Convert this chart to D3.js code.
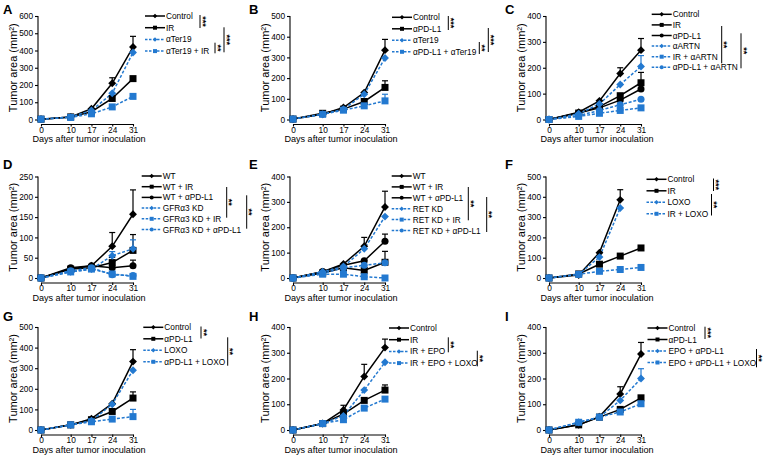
<!DOCTYPE html>
<html><head><meta charset="utf-8">
<script src="https://cdn.jsdelivr.net/npm/d3@7"></script>
<style>body{margin:0;background:#fff}svg{display:block}text{font-family:"Liberation Sans",Arial,sans-serif}</style>
</head><body><svg id="c" width="765" height="456"></svg>
<script>
const days = [0, 10, 17, 24, 31];
const xTitle = "Days after tumor inoculation";
const yTitle = "Tumor area (mm²)";

// Panel A
const aLabels = ["Control", "IR", "αTer19", "αTer19 + IR"];
const aControl = [2, 15, 62, 210, 420];   const aControlSem = [0, 4, 8, 32, 62];
const aIR = [2, 15, 45, 122, 237];        const aIRSem = [0, 4, 6, 8, 10];
const aTer = [2, 14, 52, 152, 388];       const aTerSem = [0, 3, 5, 12, 15];
const aTerIR = [2, 12, 33, 73, 134];      const aTerIRSem = [0, 3, 5, 10, 22];

// Panel B
const bLabels = ["Control", "αPD-L1", "αTer19", "αPD-L1 + αTer19"];
const bControl = [2, 25, 58, 130, 335];   const bControlSem = [0, 5, 12, 10, 52];
const bPD = [2, 30, 50, 87, 155];         const bPDSem = [0, 4, 6, 8, 32];
const bTer = [2, 25, 50, 122, 297];       const bTerSem = [0, 4, 5, 10, 10];
const bPDTer = [2, 25, 45, 66, 90];       const bPDTerSem = [0, 3, 5, 8, 32];

// Panel C
const cLabels = ["Control", "IR", "αPD-L1", "αARTN", "IR + αARTN", "αPD-L1 + αARTN"];
const cControl = [0, 28, 72, 178, 268];   const cControlSem = [0, 3, 12, 22, 45];
const cIR = [0, 25, 50, 92, 142];         const cIRSem = [0, 3, 8, 15, 40];
const cPD = [0, 25, 45, 75, 118];         const cPDSem = [0, 3, 6, 10, 30];
const cARTN = [0, 22, 60, 135, 205];      const cARTNSem = [0, 3, 8, 10, 42];
const cIRARTN = [0, 12, 24, 35, 45];      const cIRARTNSem = [0, 2, 3, 5, 8];
const cPDARTN = [0, 15, 35, 57, 78];      const cPDARTNSem = [0, 2, 5, 6, 6];

// Panel D
const dLabels = ["WT", "WT + IR", "WT + αPD-L1", "GFRα3 KD", "GFRα3 KD + IR", "GFRα3 KD + αPD-L1"];
const dWT = [0, 22, 30, 78, 157];         const dWTSem = [0, 3, 4, 34, 60];
const dWTIR = [0, 22, 25, 38, 68];        const dWTIRSem = [0, 3, 3, 13, 39];
const dWTPD = [0, 25, 30, 25, 30];        const dWTPDSem = [0, 3, 3, 5, 14];
const dKD = [0, 15, 22, 55, 72];          const dKDSem = [0, 2, 3, 10, 22];
const dKDIR = [0, 15, 22, 10, 4];         const dKDIRSem = [0, 2, 3, 4, 4];
const dKDPD = [0, 18, 25, 8, 6];          const dKDPDSem = [0, 2, 3, 4, 8];

// Panel E
const eLabels = ["WT", "WT + IR", "WT + αPD-L1", "RET KD", "RET KD + IR", "RET KD + αPD-L1"];
const eWT = [0, 25, 55, 125, 280];        const eWTSem = [0, 3, 10, 35, 62];
const eWTIR = [0, 20, 40, 30, 62];        const eWTIRSem = [0, 3, 5, 8, 43];
const eWTPD = [0, 25, 50, 68, 145];       const eWTPDSem = [0, 3, 6, 12, 28];
const eKD = [0, 25, 45, 115, 242];        const eKDSem = [0, 3, 5, 10, 10];
const eKDIR = [0, 15, 15, 5, 0];          const eKDIRSem = [0, 2, 2, 2, 2];
const eKDPD = [0, 18, 40, 50, 60];        const eKDPDSem = [0, 2, 4, 5, 8];

// Panel F
const fLabels = ["Control", "IR", "LOXO", "IR + LOXO"];
const fControl = [0, 15, 125, 385, null]; const fControlSem = [0, 3, 12, 50, 0];
const fIR = [0, 20, 68, 108, 148];        const fIRSem = [0, 3, 6, 6, 10];
const fLOXO = [0, 18, 103, 345, null];    const fLOXOSem = [0, 3, 8, 8, 0];
const fIRLOXO = [0, 18, 33, 42, 52];      const fIRLOXOSem = [0, 3, 4, 4, 8];

// Panel G
const gLabels = ["Control", "αPD-L1", "LOXO", "αPD-L1 + LOXO"];
const gControl = [0, 25, 55, 128, 332];   const gControlSem = [0, 3, 5, 8, 58];
const gPD = [0, 25, 50, 90, 155];         const gPDSem = [0, 3, 5, 8, 30];
const gLOXO = [0, 25, 45, 125, 290];      const gLOXOSem = [0, 3, 5, 8, 10];
const gPDLOXO = [0, 25, 40, 53, 65];      const gPDLOXOSem = [0, 3, 4, 6, 35];

// Panel H
const hLabels = ["Control", "IR", "IR + EPO", "IR + EPO + LOXO"];
const hControl = [0, 25, 78, 208, 320];   const hControlSem = [0, 3, 18, 47, 33];
const hIR = [0, 25, 62, 115, 155];        const hIRSem = [0, 3, 6, 10, 20];
const hEPO = [0, 25, 55, 155, 263];       const hEPOSem = [0, 3, 5, 8, 8];
const hEPOLOXO = [0, 25, 40, 85, 120];    const hEPOLOXOSem = [0, 3, 4, 6, 8];

// Panel I
const iLabels = ["Control", "αPD-L1", "EPO + αPD-L1", "EPO + αPD-L1 + LOXO"];
const iControl = [0, 20, 52, 140, 295];   const iControlSem = [0, 3, 5, 28, 45];
const iPD = [0, 20, 50, 80, 125];         const iPDSem = [0, 3, 5, 8, 15];
const iEPOPD = [0, 30, 50, 115, 200];     const iEPOPDSem = [0, 3, 5, 8, 38];
const iEPOPDLOXO = [0, 30, 50, 70, 102];  const iEPOPDLOXOSem = [0, 3, 5, 6, 8];

// ---------- layout / style ----------
const BLACK = "#000", BLUE = "#2379d0";
const colAxisX = [38, 290, 546];
const rowTop = [16, 176.5, 327];
const rowBot = [119.5, 278, 430];
const letterX = [3, 249, 505];
const letterY = [14, 169, 321];
const sym4 = ["diamond", "square", "diamond", "square"];
const col4 = [BLACK, BLACK, BLUE, BLUE];
const sym6 = ["diamond", "square", "circle", "diamond", "square", "circle"];
const col6 = [BLACK, BLACK, BLACK, BLUE, BLUE, BLUE];

const panels = [
  {letter: "A", col: 0, row: 0, ymax: 600, step: 100, labels: aLabels,
   values: [aControl, aIR, aTer, aTerIR], sems: [aControlSem, aIRSem, aTerSem, aTerIRSem],
   legX: 145, legY: 16, legDy: 11.7,
   brackets: [[200, 15, 28, "***"], [215, 42.7, 53.3, "**"], [224, 27.3, 52.3, "***"]]},
  {letter: "B", col: 1, row: 0, ymax: 500, step: 100, labels: bLabels,
   values: [bControl, bPD, bTer, bPDTer], sems: [bControlSem, bPDSem, bTerSem, bPDTerSem],
   legX: 392, legY: 17.3, legDy: 11.5,
   brackets: [[448.3, 16, 30, "***"], [479.3, 42, 54, "**"], [488.3, 28, 52, "***"]]},
  {letter: "C", col: 2, row: 0, ymax: 400, step: 100, labels: cLabels,
   values: [cControl, cIR, cPD, cARTN, cIRARTN, cPDARTN],
   sems: [cControlSem, cIRSem, cPDSem, cARTNSem, cIRARTNSem, cPDARTNSem],
   legX: 651.7, legY: 14.3, legDy: 10.6,
   brackets: [[721.7, 26, 63.3, "**"], [741, 33.3, 68.3, "**"]]},
  {letter: "D", col: 0, row: 1, ymax: 250, step: 50, labels: dLabels,
   values: [dWT, dWTIR, dWTPD, dKD, dKDIR, dKDPD],
   sems: [dWTSem, dWTIRSem, dWTPDSem, dKDSem, dKDIRSem, dKDPDSem],
   legX: 141.7, legY: 176, legDy: 10.7,
   brackets: [[226.7, 187, 217.7, "**"], [246.7, 195.3, 228.7, "**"]]},
  {letter: "E", col: 1, row: 1, ymax: 400, step: 100, labels: eLabels,
   values: [eWT, eWTIR, eWTPD, eKD, eKDIR, eKDPD],
   sems: [eWTSem, eWTIRSem, eWTPDSem, eKDSem, eKDIRSem, eKDPDSem],
   legX: 391.7, legY: 176, legDy: 10.9,
   brackets: [[468.3, 187, 220.3, "**"], [486.7, 197, 232, "**"]]},
  {letter: "F", col: 2, row: 1, ymax: 500, step: 100, labels: fLabels,
   values: [fControl, fIR, fLOXO, fIRLOXO], sems: [fControlSem, fIRSem, fLOXOSem, fIRLOXOSem],
   legX: 646.5, legY: 179.3, legDy: 11.5,
   brackets: [[713.5, 178.5, 191, "***"], [711.5, 194, 215.5, "**"]]},
  {letter: "G", col: 0, row: 2, ymax: 500, step: 100, labels: gLabels,
   values: [gControl, gPD, gLOXO, gPDLOXO], sems: [gControlSem, gPDSem, gLOXOSem, gPDLOXOSem],
   legX: 143.3, legY: 327.3, legDy: 11.5,
   brackets: [[201, 326.5, 338.5, "**"], [227.7, 337.3, 365.7, "**"]]},
  {letter: "H", col: 1, row: 2, ymax: 400, step: 100, labels: hLabels,
   values: [hControl, hIR, hEPO, hEPOLOXO], sems: [hControlSem, hIRSem, hEPOSem, hEPOLOXOSem],
   legX: 389, legY: 328, legDy: 11.7,
   brackets: [[448.3, 337.3, 352.3, "**"], [477.3, 350.7, 366.3, "**"]]},
  {letter: "I", col: 2, row: 2, ymax: 400, step: 100, labels: iLabels,
   values: [iControl, iPD, iEPOPD, iEPOPDLOXO], sems: [iControlSem, iPDSem, iEPOPDSem, iEPOPDLOXOSem],
   legX: 647.5, legY: 328, legDy: 11.5,
   brackets: [[705, 326.7, 339, "***"], [756.5, 349, 367.3, "**"]]}
];

const svg = d3.select("#c");
const FONT = '"Liberation Sans", Arial, sans-serif';

function symPath(kind, s) {
  if (kind === "circle") return d3.symbol(d3.symbolCircle, s * s * 0.8)();
  return d3.symbol(d3.symbolSquare, s * s)();
}
function drawMarker(g, kind, x, y, s, color) {
  g.append("path").attr("d", symPath(kind, kind === "diamond" ? s * 0.8 : s))
    .attr("transform", `translate(${x},${y})` + (kind === "diamond" ? " rotate(45)" : ""))
    .attr("fill", color);
}

panels.forEach(p => {
  const ax = colAxisX[p.col], top = rowTop[p.row], bot = rowBot[p.row];
  const x = d3.scaleLinear().domain([0, 31]).range([ax + 3, ax + 95]);
  const y = d3.scaleLinear().domain([0, p.ymax]).range([bot, top]);
  const g = svg.append("g");
  const n = p.values.length;
  const syms = n === 4 ? sym4 : sym6, cols = n === 4 ? col4 : col6;

  // letter
  g.append("text").attr("x", letterX[p.col]).attr("y", letterY[p.row])
    .attr("font-size", 13).attr("font-weight", "bold").text(p.letter);

  // y axis
  const ya = g.append("g").attr("transform", `translate(${ax},0)`)
    .call(d3.axisLeft(y).tickValues(d3.range(0, p.ymax + 1, p.step)).tickSize(3).tickSizeOuter(0).tickPadding(2));
  ya.select(".domain").attr("d", `M0,${top}V${bot + 2}`);
  // x axis
  const xa = g.append("g").attr("transform", `translate(0,${bot + 4.5})`)
    .call(d3.axisBottom(x).tickValues(days).tickFormat(d3.format("d")).tickSize(2.5).tickSizeOuter(0).tickPadding(0.5));
  [ya, xa].forEach(a => {
    a.attr("font-size", 8.3).attr("font-family", FONT);
    a.selectAll("path,line").attr("stroke", "#000").attr("stroke-width", 1.1);
    a.selectAll("text").attr("fill", "#000");
  });

  // titles
  g.append("text").attr("transform", `translate(${ax - 25},${(top + bot) / 2}) rotate(-90)`)
    .attr("text-anchor", "middle").attr("dominant-baseline", "central")
    .attr("font-size", 11).text(yTitle);
  g.append("text").attr("x", ax + 51).attr("y", bot + 22.5)
    .attr("text-anchor", "middle").attr("font-size", 9.1).text(xTitle);

  // series
  const line = d3.line().defined(d => d[1] !== null).x(d => x(d[0])).y(d => y(d[1]));
  p.values.forEach((vals, si) => {
    const pts = days.map((d, i) => [d, vals[i]]);
    const blue = cols[si] === BLUE;
    g.append("path").attr("d", line(pts)).attr("fill", "none").attr("stroke", cols[si])
      .attr("stroke-width", 1.5).attr("stroke-dasharray", blue ? "3,1.8" : null);
  });
  p.values.forEach((vals, si) => {
    const sems = p.sems[si];
    days.forEach((d, i) => {
      if (vals[i] === null || !sems[i]) return;
      const y0 = y(vals[i]), y1 = y(vals[i] + sems[i]);
      if (y0 - y1 < 4) return;
      g.append("line").attr("x1", x(d)).attr("x2", x(d)).attr("y1", y0).attr("y2", y1)
        .attr("stroke", cols[si]).attr("stroke-width", 1.2);
      g.append("line").attr("x1", x(d) - 3).attr("x2", x(d) + 3).attr("y1", y1).attr("y2", y1)
        .attr("stroke", cols[si]).attr("stroke-width", 1.2);
    });
  });
  p.values.forEach((vals, si) => {
    days.forEach((d, i) => {
      if (vals[i] === null) return;
      drawMarker(g, syms[si], x(d), y(vals[i]), 7, cols[si]);
    });
  });

  // legend
  p.labels.forEach((lab, si) => {
    const ly = p.legY + si * p.legDy;
    const blue = cols[si] === BLUE;
    g.append("line").attr("x1", p.legX).attr("x2", p.legX + 20).attr("y1", ly).attr("y2", ly)
      .attr("stroke", cols[si]).attr("stroke-width", 1.5).attr("stroke-dasharray", blue ? "2.5,1.5" : null);
    drawMarker(g, syms[si], p.legX + 10, ly, 4, cols[si]);
    g.append("text").attr("x", p.legX + 21).attr("y", ly).attr("dominant-baseline", "central")
      .attr("font-size", 8.3).text(lab);
  });

  // significance brackets
  p.brackets.forEach(([bx, y1, y2, lab]) => {
    g.append("line").attr("x1", bx).attr("x2", bx).attr("y1", y1).attr("y2", y2)
      .attr("stroke", "#000").attr("stroke-width", 1);
    g.append("text").attr("transform", `translate(${bx - 0.5},${(y1 + y2) / 2}) rotate(90)`)
      .attr("text-anchor", "middle").attr("font-size", 9).attr("font-weight", "bold").text(lab);
  });
});
</script></body></html>
